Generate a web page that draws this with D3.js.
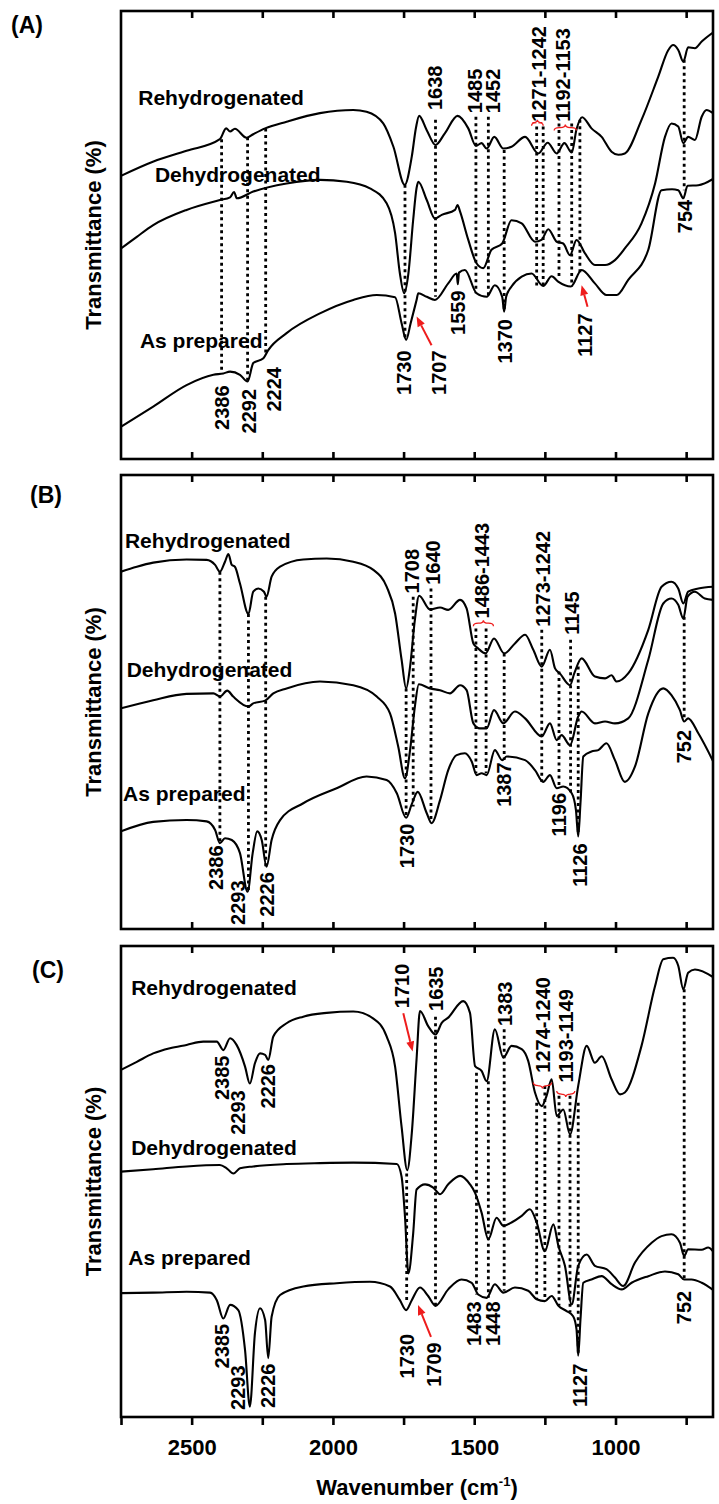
<!DOCTYPE html>
<html>
<head>
<meta charset="utf-8">
<script src="https://cdn.jsdelivr.net/npm/d3@7"></script>
<style>
  body { margin: 0; background: #fff; }
  text { font-family: "Liberation Sans", Arial, sans-serif; font-weight: bold; fill: #000; }
</style>
</head>
<body>
<div id="chart"></div>
<script>
// ---- data (wavenumber, transmittance in arbitrary % of panel height) ----
const xTicks = [2750, 2500, 2250, 2000, 1750, 1500, 1250, 1000, 750];
const xTickLabels = [2500, 2000, 1500, 1000];
const panelNames = ["(A)", "(B)", "(C)"];
const curveNames = ["Rehydrogenated", "Dehydrogenated", "As prepared"];

const aRehydro = [[2750,63.2],[2635,66.4],[2518,68.8],[2400,71.4],[2378,73.8],[2364,73.1],[2347,73.7],[2306,71.7],[2282,72.5],[2240,73.8],[2164,75.3],[2046,77.2],[1928,77.9],[1881,77.5],[1822,74.9],[1786,69.7],[1746,61.2],[1721,67.5],[1706,74.0],[1695,76.6],[1668,73.4],[1637,70.1],[1604,72.7],[1559,76.6],[1521,73.8],[1494,69.9],[1474,70.5],[1456,69.3],[1429,71.9],[1397,69.3],[1368,69.7],[1320,71.9],[1273,68.2],[1240,70.6],[1208,68.2],[1181,70.5],[1155,68.4],[1138,73.6],[1118,76.3],[1085,73.8],[1049,71.9],[1014,68.6],[990,67.9],[967,68.2],[908,75.7],[849,85.3],[813,91.3],[796,92.4],[778,91.3],[760,88.7],[743,91.9],[719,91.7],[695,93.2],[655,95.2]];
const aDehydro = [[2750,47.0],[2694,49.6],[2636,52.2],[2518,55.6],[2400,57.8],[2364,58.4],[2350,59.6],[2340,58.2],[2282,59.7],[2164,61.5],[2046,62.3],[1951,61.9],[1869,60.4],[1810,57.1],[1780,50.4],[1763,41.4],[1748,37.0],[1733,41.4],[1716,53.4],[1704,60.5],[1698,61.9],[1668,57.8],[1639,53.7],[1615,54.5],[1568,55.6],[1559,56.7],[1550,55.2],[1521,48.9],[1492,43.7],[1468,42.6],[1439,46.7],[1401,48.1],[1368,53.3],[1332,52.6],[1285,48.5],[1262,48.9],[1238,51.3],[1208,48.5],[1185,48.1],[1161,45.5],[1138,48.9],[1108,45.9],[1073,43.3],[1037,43.3],[1002,44.4],[967,47.0],[908,52.6],[860,61.5],[825,71.9],[802,74.9],[778,74.2],[760,70.5],[743,71.9],[719,71.2],[695,76.4],[678,77.9],[655,77.2]];
const aAsPrep = [[2750,7.2],[2636,11.7],[2518,16.5],[2423,18.8],[2388,19.1],[2364,19.5],[2329,18.8],[2302,17.3],[2282,21.4],[2246,22.5],[2229,24.3],[2164,28.1],[2046,32.5],[1928,35.5],[1845,36.6],[1780,36.1],[1757,30.3],[1741,26.6],[1725,30.3],[1704,35.5],[1698,37.0],[1668,36.2],[1639,35.5],[1592,39.2],[1562,41.4],[1558,39.0],[1554,41.6],[1533,42.2],[1492,37.0],[1456,36.2],[1427,38.8],[1401,36.2],[1394,32.9],[1387,36.2],[1368,38.5],[1332,40.7],[1297,41.4],[1256,38.6],[1226,40.8],[1203,39.6],[1158,38.5],[1120,42.2],[1073,39.2],[1032,36.6],[996,36.6],[955,40.0],[884,46.7],[837,60.0],[800,60.2],[778,60.0],[760,58.2],[745,61.0],[707,61.1],[655,62.5]];

const bRehydro = [[2750,78.7],[2694,79.8],[2636,80.7],[2518,81.4],[2447,81.3],[2417,80.2],[2400,78.7],[2382,80.9],[2370,82.6],[2358,80.2],[2347,79.8],[2329,76.1],[2299,69.4],[2282,74.3],[2264,75.0],[2244,74.3],[2235,73.2],[2217,77.6],[2187,79.8],[2105,81.4],[2022,81.6],[1928,80.9],[1857,79.1],[1810,75.4],[1780,69.5],[1757,59.3],[1741,53.0],[1727,57.8],[1710,68.1],[1695,73.4],[1657,70.4],[1621,70.8],[1592,70.3],[1550,72.5],[1527,70.6],[1503,62.9],[1486,61.8],[1460,60.7],[1430,64.0],[1394,60.7],[1356,62.9],[1320,64.8],[1291,61.5],[1261,57.8],[1232,61.5],[1214,57.4],[1197,56.3],[1161,53.7],[1146,56.3],[1120,59.6],[1073,55.6],[1037,55.2],[1014,55.9],[996,54.5],[955,56.3],[884,65.9],[837,75.4],[802,76.5],[778,75.0],[760,71.7],[743,74.3],[707,75.0],[655,75.4]];
const bDehydro = [[2750,48.6],[2636,50.4],[2518,51.8],[2423,51.9],[2400,51.2],[2374,52.5],[2353,51.2],[2299,49.0],[2282,49.7],[2240,50.3],[2211,51.9],[2164,53.0],[2046,54.5],[1928,53.7],[1845,51.2],[1798,47.5],[1769,40.2],[1745,33.2],[1727,39.4],[1710,49.0],[1696,53.9],[1657,53.0],[1621,52.6],[1586,51.9],[1550,53.7],[1527,52.6],[1503,45.3],[1480,44.2],[1456,44.2],[1430,48.2],[1397,45.3],[1356,47.9],[1320,46.4],[1261,42.4],[1232,45.3],[1208,41.6],[1191,42.7],[1161,40.5],[1132,46.8],[1120,47.9],[1073,45.3],[1037,45.7],[1002,45.3],[955,46.4],[884,59.3],[831,71.7],[802,72.8],[778,71.4],[760,68.4],[745,73.2],[719,74.3],[684,72.8],[655,72.5]];
const bAsPrep = [[2750,21.5],[2636,23.6],[2518,24.0],[2447,23.7],[2417,21.8],[2400,18.9],[2382,20.0],[2358,19.6],[2329,16.7],[2302,8.2],[2284,16.7],[2268,21.5],[2252,19.6],[2235,13.7],[2217,19.6],[2187,24.0],[2105,27.7],[1987,31.0],[1881,33.6],[1810,32.8],[1774,29.9],[1741,24.5],[1721,27.5],[1700,30.2],[1668,25.5],[1651,23.3],[1621,28.4],[1592,35.0],[1562,38.3],[1533,38.7],[1509,36.9],[1491,33.9],[1474,34.3],[1456,33.9],[1427,39.4],[1401,37.2],[1385,38.0],[1320,37.2],[1285,35.0],[1256,32.4],[1232,33.9],[1208,31.0],[1185,31.4],[1155,29.9],[1140,26.2],[1132,20.4],[1124,27.7],[1114,38.0],[1085,39.1],[1061,39.4],[1032,40.9],[1002,37.2],[967,32.4],[931,35.8],[884,47.5],[831,53.0],[802,51.5],[772,48.2],[757,45.7],[743,46.4],[707,43.1],[655,37.0]];

const cRehydro = [[2750,73.7],[2694,75.4],[2636,77.2],[2577,78.3],[2518,79.0],[2459,79.7],[2411,79.7],[2388,77.9],[2364,80.4],[2341,79.0],[2311,74.4],[2294,70.8],[2276,75.1],[2258,77.2],[2240,76.9],[2229,75.8],[2211,80.8],[2164,83.6],[2105,85.0],[2022,85.8],[1928,86.1],[1857,84.6],[1810,80.8],[1780,74.4],[1757,61.6],[1737,52.4],[1721,60.2],[1704,76.0],[1692,86.2],[1663,83.0],[1637,81.2],[1615,83.7],[1592,84.8],[1539,88.3],[1515,85.8],[1497,74.5],[1474,73.5],[1456,71.3],[1427,82.3],[1397,76.3],[1368,78.8],[1332,78.1],[1309,75.6],[1285,68.9],[1261,66.0],[1244,68.2],[1226,71.7],[1208,63.9],[1185,65.3],[1161,60.0],[1132,70.3],[1102,78.8],[1073,75.2],[1049,76.6],[1014,71.7],[984,68.5],[967,68.9],[908,78.8],[860,91.5],[831,97.2],[796,97.5],[778,95.8],[760,90.8],[743,94.3],[719,95.0],[655,93.4]];
const cDehydro = [[2750,52.1],[2636,52.6],[2518,53.2],[2400,53.5],[2376,52.8],[2352,51.7],[2329,52.8],[2282,53.2],[2164,53.7],[2046,53.9],[1928,54.0],[1774,53.7],[1757,51.0],[1745,42.5],[1733,30.5],[1716,39.0],[1704,48.3],[1674,49.4],[1645,48.7],[1621,47.3],[1592,49.4],[1550,51.2],[1515,49.4],[1497,47.6],[1474,43.4],[1450,37.7],[1421,42.3],[1397,40.6],[1368,41.3],[1332,42.7],[1303,44.1],[1279,41.3],[1250,35.2],[1220,40.9],[1202,36.3],[1179,32.1],[1155,23.9],[1132,32.1],[1102,34.5],[1073,32.1],[1032,31.4],[1002,29.6],[973,27.8],[931,32.8],[872,37.0],[837,38.4],[802,38.8],[772,37.0],[757,34.2],[743,35.6],[695,35.5],[672,36.0],[655,35.2]];
const cAsPrep = [[2750,26.3],[2636,26.4],[2518,26.6],[2435,26.4],[2411,24.8],[2388,20.9],[2364,23.8],[2335,22.7],[2311,14.2],[2294,2.2],[2276,17.8],[2258,23.1],[2240,20.6],[2229,12.5],[2217,21.3],[2187,25.9],[2105,27.7],[1987,28.4],[1869,28.7],[1798,27.7],[1763,24.8],[1741,22.7],[1721,24.8],[1692,27.5],[1663,25.7],[1637,23.6],[1592,27.1],[1545,29.2],[1509,28.5],[1486,26.0],[1456,25.3],[1427,28.2],[1397,26.4],[1356,27.5],[1309,26.8],[1279,25.0],[1250,24.6],[1226,25.7],[1202,23.6],[1173,22.5],[1150,21.4],[1138,18.6],[1132,13.0],[1124,20.7],[1114,28.5],[1085,29.2],[1049,29.9],[1014,28.2],[978,27.1],[943,28.5],[884,29.9],[825,30.9],[778,30.3],[757,29.2],[731,29.2],[695,28.5],[655,27.0]];

// dotted marker lines: [wavenumber, top, bottom]
const aLines = [[2394,71.4,19.1],[2302,71.8,17.3],[2238,73.8,23.6],[1745,61.2,26.6],[1637,75.7,36.2],[1494,76.4,37.0],[1450,76.4,36.2],[1394,69.0,32.9],[1279,74.2,38.5],[1256,74.2,38.5],[1200,74.9,40.7],[1155,74.9,38.5],[1126,75.7,41.4],[757,89.1,60.0]];
const bLines = [[2400,78.7,18.9],[2299,69.4,8.2],[2238,73.2,13.7],[1741,53.0,24.7],[1716,73.2,27.0],[1653,75.0,23.7],[1494,66.2,34.3],[1458,66.2,34.3],[1394,60.7,37.2],[1261,65.9,32.4],[1200,56.7,31.4],[1159,63.7,29.9],[1132,57.8,20.7],[757,68.8,46.0]];
const cLines = [[1739,51.7,24.1],[1637,85.0,23.6],[1492,73.1,26.0],[1450,71.3,25.3],[1394,82.3,26.8],[1279,66.7,25.0],[1250,70.3,24.6],[1200,68.2,23.6],[1161,68.2,22.2],[1132,66.7,13.0],[757,90.8,29.2]];

// peak labels: [text, wavenumber, bottom of text]
const aPeaks = [["2386",2394,6.5],["2292",2299,5.7],["2224",2211,10.6],["1730",1749,14.3],["1707",1625,14.3],["1559",1559,27.7],["1370",1391,21.3],["1127",1110,22.8],["754",754,50.4],["1638",1638,77.9],["1485",1497,77.2],["1452",1433,77.2],["1271-1242",1271,75.3],["1192-1153",1188,75.3]];
const bPeaks = [["2386",2415,8.6],["2293",2338,0.9],["2226",2235,2.7],["1730",1739,13.4],["1708",1721,73.9],["1640",1645,75.8],["1486-1443",1474,68.4],["1387",1395,26.9],["1273-1242",1258,66.6],["1196",1202,20.4],["1145",1155,64.8],["1126",1128,9.3],["752",757,36.5]];
const cPeaks = [["2385",2394,67.3],["2293",2338,59.9],["2226",2232,65.5],["2385",2394,10.3],["2293",2338,1.5],["2226",2229,1.9],["1730",1739,8.2],["1710",1756,86.8],["1635",1637,86.2],["1383",1391,83.0],["1274-1240",1258,73.1],["1193-1149",1177,71.0],["1483",1503,15.1],["1448",1433,15.1],["1709",1644,6.4],["1127",1125,2.1],["752",757,19.7]];

// red arrows: [from wn, from T, to wn, to T]
const aArrows = [[1651,25.4,1704,31.8],[1099,34.0,1120,38.8]];
const bArrows = [];
const cArrows = [[1751,85.7,1718,77.6],[1653,17.0,1699,23.8]];

// red braces: [wn1, wn2, T at ends, direction (-1 tip up, 1 tip down)]
const aBraces = [[1297,1256,74.4,-1],[1217,1138,73.3,-1]];
const bBraces = [[1503,1432,66.7,-1]];
const cBraces = [[1291,1226,71.0,1],[1208,1144,69.2,1]];

// curve name positions: [wn, T]
const aNamePos = [[2689,79.0],[2630,61.9],[2683,24.7]];
const bNamePos = [[2736,83.9],[2730,55.6],[2743,28.1]];
const cNamePos = [[2714,89.6],[2714,55.6],[2724,32.3]];

// ---- layout ----
const width = 719, height = 1504;
const frame = { left: 121, right: 713 };
const panels = [
  { top: 11, bottom: 459, curves: [aRehydro, aDehydro, aAsPrep], lines: aLines, peaks: aPeaks, arrows: aArrows, braces: aBraces, names: aNamePos, tag: { x: 11, y: 33 } },
  { top: 475, bottom: 929, curves: [bRehydro, bDehydro, bAsPrep], lines: bLines, peaks: bPeaks, arrows: bArrows, braces: bBraces, names: bNamePos, tag: { x: 30, y: 503 } },
  { top: 946, bottom: 1417, curves: [cRehydro, cDehydro, cAsPrep], lines: cLines, peaks: cPeaks, arrows: cArrows, braces: cBraces, names: cNamePos, tag: { x: 32, y: 978 } }
];

const svg = d3.select("#chart").append("svg")
  .attr("width", width).attr("height", height);

const x = d3.scaleLinear().domain([2750, 655]).range([frame.left, frame.right]);

function bracePath(x1, x2, y0, dir) {
  const h = 6, q = 5, xm = (x1 + x2) / 2, ym = y0 + dir * h / 2, yt = y0 + dir * h;
  return `M${x1},${y0} Q${x1},${ym} ${x1 + q},${ym} L${xm - q},${ym} Q${xm},${ym} ${xm},${yt}` +
         ` Q${xm},${ym} ${xm + q},${ym} L${x2 - q},${ym} Q${x2},${ym} ${x2},${y0}`;
}

panels.forEach((p, i) => {
  const y = d3.scaleLinear().domain([0, 100]).range([p.bottom, p.top]);
  const g = svg.append("g");

  g.append("clipPath").attr("id", "clip" + i)
    .append("rect")
    .attr("x", frame.left).attr("y", p.top)
    .attr("width", frame.right - frame.left).attr("height", p.bottom - p.top);

  // dotted marker lines
  g.selectAll(".vline").data(p.lines).join("line")
    .attr("x1", d => x(d[0])).attr("x2", d => x(d[0]))
    .attr("y1", d => y(d[1])).attr("y2", d => y(d[2]))
    .attr("stroke", "#000").attr("stroke-width", 2.8)
    .attr("stroke-dasharray", "3,3.5");

  // spectra
  const line = d3.line()
    .x(d => x(d[0])).y(d => y(d[1]))
    .curve(d3.curveMonotoneX);
  g.append("g").attr("clip-path", `url(#clip${i})`)
    .selectAll("path").data(p.curves).join("path")
    .attr("d", line)
    .attr("fill", "none").attr("stroke", "#000").attr("stroke-width", 2.1)
    .attr("stroke-linejoin", "round");

  // curve names
  g.selectAll(".name").data(p.names).join("text")
    .attr("x", d => x(d[0])).attr("y", d => y(d[1]))
    .style("font-size", "21px")
    .text((d, j) => curveNames[j]);

  // rotated peak labels
  g.selectAll(".peak").data(p.peaks).join("text")
    .attr("transform", d => `translate(${x(d[1])},${y(d[2])}) rotate(-90)`)
    .attr("dy", "0.36em")
    .style("font-size", "20px")
    .text(d => d[0]);

  // red arrows
  p.arrows.forEach(a => {
    const x1 = x(a[0]), y1 = y(a[1]), x2 = x(a[2]), y2 = y(a[3]);
    const ang = Math.atan2(y2 - y1, x2 - x1), L = 10, w = 4;
    const bx = x2 - L * Math.cos(ang), by = y2 - L * Math.sin(ang);
    g.append("line").attr("x1", x1).attr("y1", y1).attr("x2", bx).attr("y2", by)
      .attr("stroke", "#ee1c1c").attr("stroke-width", 2);
    g.append("path")
      .attr("d", `M${x2},${y2} L${bx - w * Math.sin(ang)},${by + w * Math.cos(ang)} L${bx + w * Math.sin(ang)},${by - w * Math.cos(ang)} Z`)
      .attr("fill", "#ee1c1c");
  });

  // red braces
  g.selectAll(".brace").data(p.braces).join("path")
    .attr("d", d => bracePath(x(d[0]), x(d[1]), y(d[2]), d[3]))
    .attr("fill", "none").attr("stroke", "#ee1c1c").attr("stroke-width", 1.3);

  // frame
  g.append("rect")
    .attr("x", frame.left).attr("y", p.top)
    .attr("width", frame.right - frame.left).attr("height", p.bottom - p.top)
    .attr("fill", "none").attr("stroke", "#000").attr("stroke-width", 2.6);

  // inward ticks on top
  const inner = xTicks.filter(t => t < 2750);
  g.append("g").attr("transform", `translate(0,${p.top})`)
    .call(d3.axisTop(x).tickValues(inner).tickSize(-7).tickFormat(""))
    .call(s => s.select(".domain").remove())
    .selectAll("line").attr("stroke-width", 2.6);

  if (i < 2) {
    g.append("g").attr("transform", `translate(0,${p.bottom})`)
      .call(d3.axisBottom(x).tickValues(inner).tickSize(-7).tickFormat(""))
      .call(s => s.select(".domain").remove())
      .selectAll("line").attr("stroke-width", 2.6);
  } else {
    const ax = g.append("g").attr("transform", `translate(0,${p.bottom})`)
      .call(d3.axisBottom(x).tickValues(xTicks).tickSize(8)
        .tickFormat(d => xTickLabels.includes(d) ? d : ""));
    ax.select(".domain").remove();
    ax.selectAll("line").attr("stroke-width", 2.6);
    ax.selectAll("text")
      .attr("y", 38).attr("dy", 0)
      .style("font-size", "22px")
      .style("font-family", '"Liberation Sans", Arial, sans-serif')
      .style("font-weight", "bold");
  }

  // panel tag
  g.append("text").attr("x", p.tag.x).attr("y", p.tag.y)
    .style("font-size", "23px").text(panelNames[i]);

  // y label
  g.append("text")
    .attr("transform", `translate(93,${(p.top + p.bottom) / 2}) rotate(-90)`)
    .attr("text-anchor", "middle").attr("dy", "0.36em")
    .style("font-size", "22px")
    .text("Transmittance (%)");
});

// x label
const xl = svg.append("text")
  .attr("x", (frame.left + frame.right) / 2).attr("y", 1495)
  .attr("text-anchor", "middle").style("font-size", "22px");
xl.append("tspan").text("Wavenumber (cm");
xl.append("tspan").attr("dy", -9).style("font-size", "13px").text("-1");
xl.append("tspan").attr("dy", 9).text(")");
</script>
</body>
</html>
